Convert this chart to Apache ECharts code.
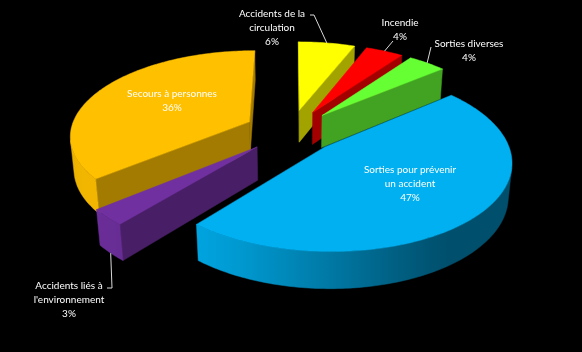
<!DOCTYPE html>
<html>
<head>
<meta charset="utf-8">
<script src="https://cdn.jsdelivr.net/npm/echarts@6/dist/echarts.min.js"></script>
<style>
  html, body { margin: 0; background: #000; }
  #chart { width: 582px; height: 352px; }
</style>
</head>
<body>
<div id="chart"></div>
<script>
// slices, clockwise from 12 o'clock
const categories = [
  'Accidents de la\ncirculation',
  'Incendie',
  'Sorties diverses',
  'Sorties pour prévenir\nun accident',
  'Accidents liés à\nl\'environnement',
  'Secours à personnes'
];
const values = [6, 4, 4, 47, 3, 36];

const colors = ['#ffff00', '#ff0000', '#66ff33', '#00b0f0', '#7030a0', '#ffc000'];

// label centres; leader = start points of the leader line, h = anchor height on the slice
const labelBoxes = [
  { x: 272, y: 28, leader: [[310, 15], [314, 15]], h: 0 },
  { x: 400, y: 30, leader: [[393, 41]], h: 0 },
  { x: 469, y: 51, leader: [[431, 47]], h: 0 },
  { x: 410, y: 184 },
  { x: 69, y: 300, leader: [[107, 288], [112, 288]], h: -1 },
  { x: 172, y: 101 }
];

const FONT = 'Lato, sans-serif';

// fake 3d camera
const PHI = 28 * Math.PI / 180;
const DIST = 6;
const FOCAL = 1075;
const CX = 291, CY = 131;
const EXPLODE = 0.26;
const THICK = 0.21;
const CAM = [0, -DIST * Math.cos(PHI), DIST * Math.sin(PHI)];
const LIGHT = [-0.8, -0.6];

const total = values.reduce((s, v) => s + v, 0);
const starts = [];
values.reduce((acc, v, i) => { starts[i] = acc; return acc + v; }, 0);

// far slices get painted first
const order = values.map((v, i) => {
  const mid = (starts[i] + v / 2) / total * Math.PI * 2;
  return { i, depth: Math.cos(mid) };
}).sort((a, b) => b.depth - a.depth);
const rank = [];
order.forEach((o, k) => { rank[o.i] = k; });

function project(u, v, h) {
  const yc = v * Math.sin(PHI) + h * Math.cos(PHI);
  const zc = DIST + v * Math.cos(PHI) - h * Math.sin(PHI);
  return [CX + FOCAL * u / zc, CY - FOCAL * yc / zc];
}

function shade(hex, f) {
  const n = parseInt(hex.slice(1), 16);
  const r = Math.round(((n >> 16) & 255) * f);
  const g = Math.round(((n >> 8) & 255) * f);
  const b = Math.round((n & 255) * f);
  return 'rgb(' + r + ',' + g + ',' + b + ')';
}

function faces(nu, nv, pu, pv) {
  return nu * (CAM[0] - pu) + nv * (CAM[1] - pv) > 0;
}

function wallLight(t) {
  const d = Math.max(0, Math.sin(t) * LIGHT[0] + Math.cos(t) * LIGHT[1]);
  return 0.45 + 0.5 * Math.pow(d, 1.5);
}

function renderItem(params, api) {
  const i = params.dataIndex;
  const val = api.value(0);
  const a0 = starts[i] / total * Math.PI * 2;
  const a1 = a0 + val / total * Math.PI * 2;
  const mid = (a0 + a1) / 2;
  const ou = EXPLODE * Math.sin(mid);
  const ov = EXPLODE * Math.cos(mid);
  const pt = (t, r, h) => project(ou + r * Math.sin(t), ov + r * Math.cos(t), h);
  const base = rank[i] * 10;
  const col = colors[i];
  const children = [];

  const wall = (pts, fill) => children.push({
    type: 'polygon',
    shape: { points: pts },
    style: { fill: fill, stroke: fill, lineWidth: 0.5 },
    z2: base + 1
  });

  // radial walls
  if (faces(-Math.cos(a0), Math.sin(a0), ou + 0.5 * Math.sin(a0), ov + 0.5 * Math.cos(a0))) {
    wall([pt(a0, 0, 0), pt(a0, 1, 0), pt(a0, 1, -THICK), pt(a0, 0, -THICK)], shade(col, 0.64));
  }
  if (faces(Math.cos(a1), -Math.sin(a1), ou + 0.5 * Math.sin(a1), ov + 0.5 * Math.cos(a1))) {
    wall([pt(a1, 0, 0), pt(a1, 1, 0), pt(a1, 1, -THICK), pt(a1, 0, -THICK)], shade(col, 0.64));
  }

  // outer curved wall, the part turned to the camera, one polygon with a gradient
  const steps = Math.max(2, Math.ceil((a1 - a0) / (Math.PI / 180)));
  let ts = null, te = null;
  for (let s = 0; s < steps; s++) {
    const tm = a0 + (a1 - a0) * (s + 0.5) / steps;
    const nu = Math.sin(tm), nv = Math.cos(tm);
    if (faces(nu, nv, ou + nu, ov + nv)) {
      if (ts === null) ts = a0 + (a1 - a0) * s / steps;
      te = a0 + (a1 - a0) * (s + 1) / steps;
    }
  }
  if (ts !== null) {
    const n = Math.max(2, Math.ceil((te - ts) / (Math.PI / 180)));
    const upper = [], lower = [], stops = [];
    for (let s = 0; s <= n; s++) {
      const t = ts + (te - ts) * s / n;
      upper.push(pt(t, 1, 0));
      lower.push(pt(t, 1, -THICK));
    }
    const xs = upper.map(p => p[0]);
    const x0 = Math.min(...xs), x1 = Math.max(...xs);
    for (let s = 0; s <= n; s++) {
      const t = ts + (te - ts) * s / n;
      stops.push({ offset: x1 > x0 ? (xs[s] - x0) / (x1 - x0) : 0, color: shade(col, wallLight(t)) });
    }
    stops.sort((a, b) => a.offset - b.offset);
    const grad = { type: 'linear', x: x0, y: 0, x2: x1, y2: 0, global: true, colorStops: stops };
    children.push({
      type: 'polygon',
      shape: { points: upper.concat(lower.reverse()) },
      style: { fill: grad, stroke: grad, lineWidth: 0.5 },
      z2: base + 1
    });
  }

  // top face
  const top = [project(ou, ov, 0)];
  for (let s = 0; s <= steps; s++) top.push(pt(a0 + (a1 - a0) * s / steps, 1, 0));
  children.push({
    type: 'polygon',
    shape: { points: top },
    style: { fill: col, stroke: col, lineWidth: 0.5 },
    z2: base + 2
  });

  // label
  const pct = Math.round(val / total * 100) + '%';
  const box = labelBoxes[i];
  if (box.leader) {
    children.push({
      type: 'polyline',
      shape: { points: box.leader.concat([pt(mid, 1, box.h * THICK)]) },
      style: { stroke: '#d9d9d9', lineWidth: 1, fill: null },
      z2: 900
    });
  }
  children.push({
    type: 'text',
    style: {
      text: categories[i] + '\n' + pct,
      x: box.x,
      y: box.y,
      fill: '#ffffff',
      fontSize: 10,
      fontFamily: FONT,
      align: 'center',
      verticalAlign: 'middle',
      lineHeight: 14
    },
    z2: 1000
  });

  return { type: 'group', children: children };
}

const chart = echarts.init(document.getElementById('chart'));
chart.setOption({
  backgroundColor: '#000000',
  animation: false,
  series: [{
    type: 'custom',
    coordinateSystem: 'none',
    renderItem: renderItem,
    data: values.map((v, i) => ({ name: categories[i], value: v }))
  }]
});
</script>
</body>
</html>
